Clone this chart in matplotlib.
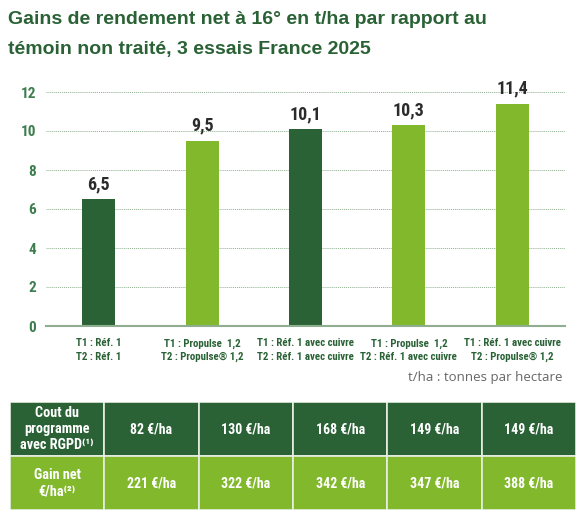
#!/usr/bin/env python3
# Gains de rendement net - barres + tableau de couts
import matplotlib
matplotlib.use('Agg')
import matplotlib.pyplot as plt
from matplotlib.patches import Rectangle

# data
categories = [
    'T1 : Réf. 1\nT2 : Réf. 1',
    'T1 : Propulse  1,2\nT2 : Propulse® 1,2',
    'T1 : Réf. 1 avec cuivre\nT2 : Réf. 1 avec cuivre',
    'T1 : Propulse  1,2\nT2 : Réf. 1 avec cuivre',
    'T1 : Réf. 1 avec cuivre\nT2 : Propulse® 1,2',
]
gains = [6.5, 9.5, 10.1, 10.3, 11.4]
value_labels = ['6,5', '9,5', '10,1', '10,3', '11,4']
yticks = [0, 2, 4, 6, 8, 10, 12]
row_labels = ['Cout du\nprogramme\navec RGPD⁽¹⁾', 'Gain net\n€/ha⁽²⁾']
cost_row = ['82 €/ha', '130 €/ha', '168 €/ha', '149 €/ha', '149 €/ha']
net_row = ['221 €/ha', '322 €/ha', '342 €/ha', '347 €/ha', '388 €/ha']

DARK = '#2a6236'
LIGHT = '#82b92c'
bar_colors = [DARK, LIGHT, DARK, LIGHT, LIGHT]
TITLE_C = '#2a6236'
TICK_C = '#3d7d4e'
COND = ['Roboto Condensed', 'PT Sans Narrow', 'Liberation Sans', 'DejaVu Sans']
SANS = ['Liberation Sans', 'DejaVu Sans']

W, H = 583, 517
fig = plt.figure(figsize=(W / 100, H / 100), dpi=100)


def fx(px):
    return px / W


def fy(py):
    return 1 - py / H


# title
fig.text(fx(8), fy(20), 'Gains de rendement net à 16° en t/ha par rapport au',
         family=SANS, weight='bold', fontsize=14.0, color=TITLE_C, va='center', ha='left')
fig.text(fx(8), fy(50), 'témoin non traité, 3 essais France 2025',
         family=SANS, weight='bold', fontsize=14.0, color=TITLE_C, va='center', ha='left')

# bar chart
ax = fig.add_axes([fx(46), fy(326), fx(565) - fx(46), fy(92) - fy(326)])
x = list(range(len(gains)))
ax.bar(x, gains, width=0.32, color=bar_colors, zorder=3)
for xi, v, lab in zip(x, gains, value_labels):
    ax.text(xi, v + 0.3, lab, ha='center', va='bottom', family=COND,
            weight='bold', fontsize=13, color='#2b2b2b')
ax.set_xlim(-0.51, 4.51)
ax.set_ylim(0, 12)
ax.set_yticks(yticks)
ax.set_yticklabels([str(t) for t in yticks], family=COND, weight='bold',
                   fontsize=11, color=TICK_C)
ax.set_xticks(x)
ax.set_xticklabels(categories, family=COND, weight='bold', fontsize=7.8,
                   color=DARK, linespacing=1.4)
ax.tick_params(axis='both', length=0)
ax.tick_params(axis='y', pad=7)
ax.tick_params(axis='x', pad=9)
for t in yticks[1:]:
    ax.axhline(t, color='#8fb08f', linestyle=(0, (1, 1)), linewidth=0.7, zorder=1,
               clip_on=False)
for s in ['top', 'right', 'left']:
    ax.spines[s].set_visible(False)
ax.spines['bottom'].set_color('#8fae8f')
ax.spines['bottom'].set_linewidth(1.5)
ax.spines['bottom'].set_zorder(4)

fig.text(fx(562), fy(377), 't/ha : tonnes par hectare', ha='right', va='center',
         family=['Open Sans', 'DejaVu Sans'], fontsize=9.5, color='#666666')

# table
tab = fig.add_axes([fx(10), fy(510), fx(576) - fx(10), fy(402) - fy(510)])
tab.set_xlim(0, 6)
tab.set_ylim(0, 2)
tab.axis('off')
rows = [(row_labels[0], cost_row, DARK), (row_labels[1], net_row, LIGHT)]
for r, (label, vals, col) in enumerate(rows):
    yb = 1 - r
    cells = [label] + vals
    for c, txt in enumerate(cells):
        tab.add_patch(Rectangle((c, yb), 1, 1, facecolor=col, edgecolor='#e8efe4',
                                linewidth=1.2))
        tab.text(c + 0.5, yb + 0.5, txt, ha='center', va='center', color='white',
                 family=COND, weight='bold', fontsize=10.3 if c == 0 else 10,
                 linespacing=1.2)

fig.savefig('out.png', dpi=100)
